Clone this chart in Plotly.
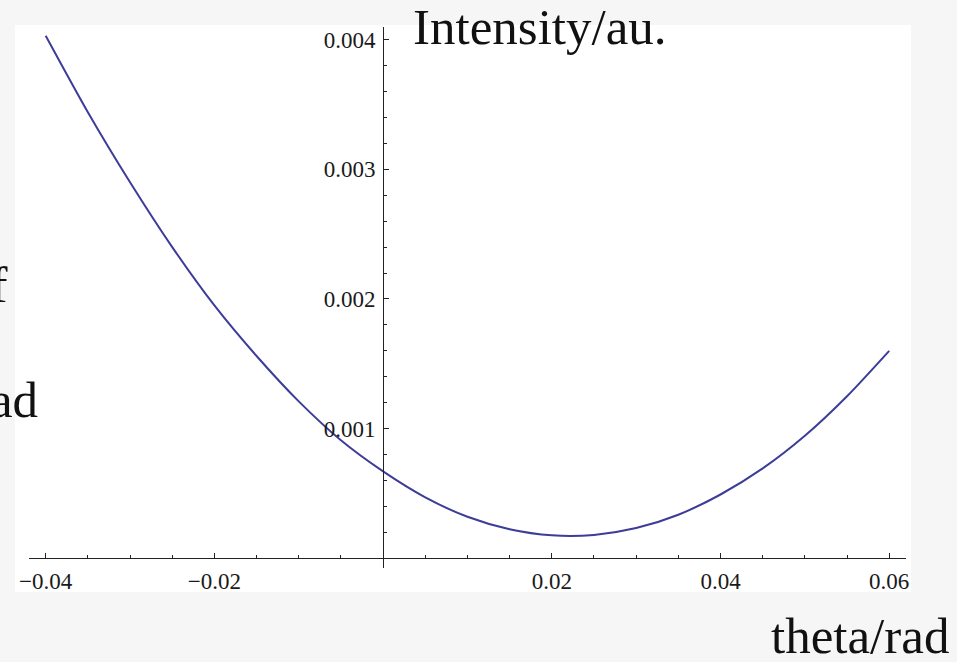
import plotly.graph_objects as go

# Angle (rad) and measured intensity (arbitrary units)
theta = [-0.040, -0.035, -0.030, -0.025, -0.020, -0.015, -0.010, -0.005,
         0.000, 0.005, 0.010, 0.015, 0.020, 0.025, 0.030, 0.035,
         0.040, 0.045, 0.050, 0.055, 0.060]
intensity = [0.00403, 0.00344, 0.00290, 0.00240, 0.00195, 0.00156, 0.00121, 0.00091,
             0.00067, 0.00047, 0.00032, 0.000224, 0.000177, 0.000180, 0.000233, 0.000336,
             0.000492, 0.000693, 0.000945, 0.00125, 0.00160]

x_tickvals = [-0.04, -0.02, 0.02, 0.04, 0.06]
x_ticktext = ["\u22120.04", "\u22120.02", "0.02", "0.04", "0.06"]
y_tickvals = [0.001, 0.002, 0.003, 0.004]
y_ticktext = ["0.001", "0.002", "0.003", "0.004"]

x_range = [-0.04198, 0.06199]
y_range = [-0.0000748, 0.004097]

W, H = 957, 662
ML, MR, MT, MB = 29, 51, 27, 94
pw = W - ML - MR
ph = H - MT - MB


def px_x(p):
    return (p - ML) / pw


def px_y(p):
    return (H - MB - p) / ph


# axes cross at the origin
yaxis_pos = (0 - x_range[0]) / (x_range[1] - x_range[0])
xaxis_pos = (0 - y_range[0]) / (y_range[1] - y_range[0])

tick_font = dict(family="Liberation Serif, Times New Roman, serif", size=23, color="#1a1a1a")
label_font = dict(family="Liberation Serif, Times New Roman, serif", size=51, color="#111111")

fig = go.Figure()
fig.add_trace(go.Scatter(
    x=theta, y=intensity, mode="lines",
    line=dict(color="#3d3d99", width=2, shape="spline", smoothing=0.7),
    hoverinfo="skip", showlegend=False,
))

fig.update_layout(
    width=W, height=H,
    margin=dict(l=ML, r=MR, t=MT, b=MB, pad=0),
    paper_bgcolor="#f6f6f6",
    plot_bgcolor="white",
    showlegend=False,
    xaxis=dict(
        range=x_range, anchor="free", position=xaxis_pos, side="bottom",
        showgrid=False, zeroline=False,
        showline=True, linecolor="#222222", linewidth=1,
        tickmode="array", tickvals=x_tickvals, ticktext=x_ticktext,
        ticks="inside", ticklen=5, tickwidth=1, tickcolor="#222222",
        minor=dict(dtick=0.005, tick0=0, ticks="inside", ticklen=3,
                   tickwidth=1, tickcolor="#222222", showgrid=False),
        tickfont=tick_font, ticklabelstandoff=2,
    ),
    yaxis=dict(
        range=y_range, anchor="free", position=yaxis_pos, side="left",
        showgrid=False, zeroline=False,
        showline=True, linecolor="#222222", linewidth=1,
        tickmode="array", tickvals=y_tickvals, ticktext=y_ticktext,
        ticks="inside", ticklen=5, tickwidth=1, tickcolor="#222222",
        minor=dict(dtick=0.0002, tick0=0, ticks="inside", ticklen=3,
                   tickwidth=1, tickcolor="#222222", showgrid=False),
        tickfont=tick_font, ticklabelstandoff=3,
    ),
    shapes=[dict(
        type="rect", xref="paper", yref="paper", layer="below",
        x0=px_x(15), x1=px_x(911), y0=px_y(592), y1=px_y(25),
        fillcolor="white", line=dict(width=0),
    )],
    annotations=[
        dict(text="Intensity/au.", xref="paper", yref="paper",
             x=px_x(411), y=px_y(27), xanchor="left", yanchor="middle",
             showarrow=False, font=label_font),
        dict(text="theta/rad", xref="paper", yref="paper",
             x=px_x(769), y=px_y(636), xanchor="left", yanchor="middle",
             showarrow=False, font=label_font),
        dict(text="of", xref="paper", yref="paper",
             x=px_x(10), y=px_y(285), xanchor="right", yanchor="middle",
             showarrow=False, font=label_font),
        dict(text="rad", xref="paper", yref="paper",
             x=px_x(40), y=px_y(400), xanchor="right", yanchor="middle",
             showarrow=False, font=label_font),
    ],
)

fig.write_html("out.html")
